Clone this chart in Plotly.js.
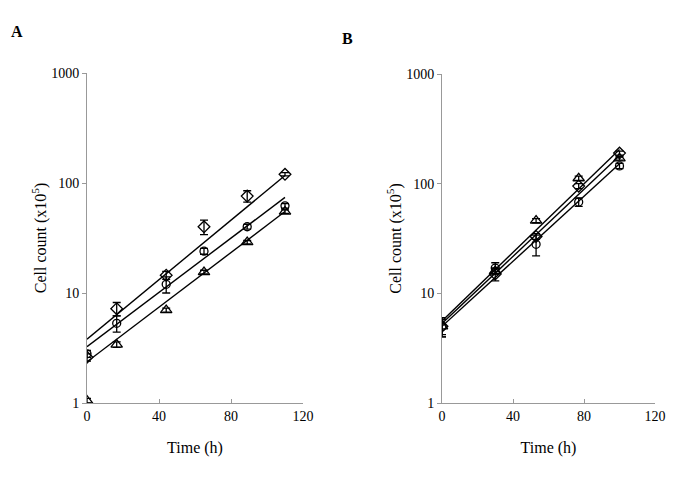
<!DOCTYPE html>
<html>
<head>
<meta charset="utf-8">
<script src="https://cdn.plot.ly/plotly-3.0.1.min.js"></script>
<style>html,body{margin:0;padding:0;background:#fff;}#chart{width:685px;height:478px;}</style>
</head>
<body>
<div id="chart"></div>
<script>
// Panel A data
const timeA = [0, 16.5, 44, 65, 89, 110];
const diamondA = [2.6, 7.2, 14.5, 40, 76, 120];
const diamondAErr = [0.2, 1.0, 1.2, 6, 9, 4];
const circleA = [2.8, 5.3, 12, 24, 40, 62];
const circleAErr = [0.2, 0.9, 2, 1.5, 2, 3];
const triangleA = [1.05, 3.4, 7, 15.5, 29, 55];
const triangleAErr = [0.05, 0.2, 0.3, 0.6, 1, 2];
const fitTimeA = [0, 110];
const fitDiamondA = [3.8, 117];
const fitCircleA = [3.25, 74];
const fitTriangleA = [2.37, 55];

// Panel B data
const timeB = [0, 30, 53, 77, 100];
const diamondB = [5, 15, 33, 95, 190];
const diamondBErr = [1, 2, 2, 5, 8];
const circleB = [5, 17, 28, 68, 145];
const circleBErr = [1, 2, 6, 6, 8];
const triangleB = [5, 16, 46, 112, 170];
const triangleBErr = [0.8, 1, 2, 5, 6];
const fitTimeB = [0, 100];
const fitDiamondB = [5.6, 205];
const fitTriangleB = [5.3, 180];
const fitCircleB = [5.0, 152];

const yTickVals = [1, 10, 100, 1000];
const yTickText = ['1', '10', '100', '1000'];
const xTickVals = [0, 40, 80, 120];

const symSize = {'diamond-open': 9, 'circle-open': 8, 'triangle-up-open': 10};

function pts(x, y, err, symbol, xa, ya) {
  return {
    x: x, y: y, xaxis: xa, yaxis: ya, type: 'scatter', mode: 'markers',
    marker: {symbol: symbol, size: symSize[symbol], color: 'black', line: {width: 1.3, color: 'black'}},
    error_y: {type: 'data', array: err, visible: true, color: 'black', thickness: 1.3, width: 4},
    showlegend: false, hoverinfo: 'skip'
  };
}
function fit(x, y, xa, ya) {
  return {
    x: x, y: y, xaxis: xa, yaxis: ya, type: 'scatter', mode: 'lines',
    line: {color: 'black', width: 1.4}, showlegend: false, hoverinfo: 'skip'
  };
}

const data = [
  fit(fitTimeA, fitDiamondA, 'x', 'y'),
  fit(fitTimeA, fitCircleA, 'x', 'y'),
  fit(fitTimeA, fitTriangleA, 'x', 'y'),
  pts(timeA, diamondA, diamondAErr, 'diamond-open', 'x', 'y'),
  pts(timeA, circleA, circleAErr, 'circle-open', 'x', 'y'),
  pts(timeA, triangleA, triangleAErr, 'triangle-up-open', 'x', 'y'),
  fit(fitTimeB, fitDiamondB, 'x2', 'y2'),
  fit(fitTimeB, fitTriangleB, 'x2', 'y2'),
  fit(fitTimeB, fitCircleB, 'x2', 'y2'),
  pts(timeB, diamondB, diamondBErr, 'diamond-open', 'x2', 'y2'),
  pts(timeB, circleB, circleBErr, 'circle-open', 'x2', 'y2'),
  pts(timeB, triangleB, triangleBErr, 'triangle-up-open', 'x2', 'y2')
];

const FAM = 'Liberation Serif, Times New Roman, serif';
const tickFont = {family: FAM, size: 14, color: 'black'};
const titleFont = {family: FAM, size: 16, color: 'black'};

function xax(domain, anchor) {
  return {
    domain: domain, anchor: anchor, range: [0, 120], tickvals: xTickVals,
    showgrid: false, zeroline: false, showline: true, linecolor: '#999', linewidth: 1,
    ticks: 'inside', ticklen: 4, tickcolor: '#999', tickfont: tickFont,
    title: {text: 'Time (h)', font: titleFont, standoff: 19}
  };
}
function yax(domain, anchor) {
  return {
    domain: domain, anchor: anchor, type: 'log', range: [0, 3],
    tickvals: yTickVals, ticktext: yTickText,
    showgrid: false, zeroline: false, showline: true, linecolor: '#999', linewidth: 1,
    ticks: 'outside', ticklen: 4, tickcolor: '#999', tickfont: tickFont,
    title: {text: 'Cell count (x10<sup>5</sup>)', font: titleFont, standoff: 0}
  };
}

const layout = {
  width: 685, height: 478,
  margin: {l: 0, r: 0, t: 0, b: 0},
  paper_bgcolor: 'white', plot_bgcolor: 'white',
  font: tickFont,
  xaxis: xax([87/685, 303/685], 'y'),
  yaxis: yax([75/478, 405/478], 'x'),
  xaxis2: xax([442/685, 655/685], 'y2'),
  yaxis2: yax([75/478, 404/478], 'x2'),
  annotations: [
    {text: '<b>A</b>', x: 17/685, y: 1 - 32/478, xref: 'paper', yref: 'paper', showarrow: false,
     xanchor: 'center', yanchor: 'middle', font: {family: FAM, size: 16, color: 'black'}},
    {text: '<b>B</b>', x: 347/685, y: 1 - 38/478, xref: 'paper', yref: 'paper', showarrow: false,
     xanchor: 'center', yanchor: 'middle', font: {family: FAM, size: 16, color: 'black'}}
  ]
};

Plotly.newPlot('chart', data, layout, {displayModeBar: false, staticPlot: true});
</script>
</body>
</html>
